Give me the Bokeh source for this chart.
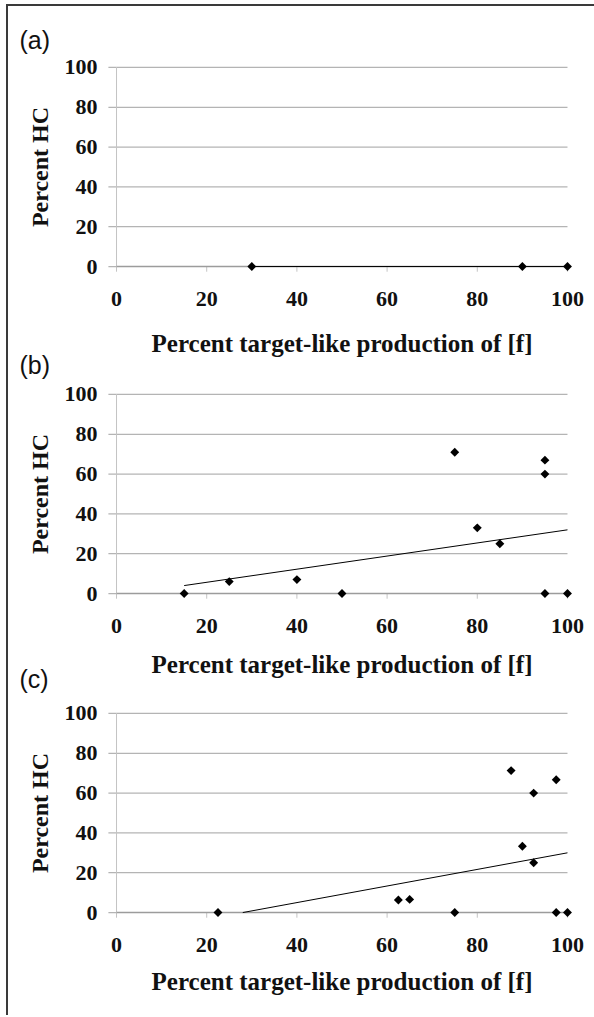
from math import pi
from bokeh.plotting import figure
from bokeh.models import Range1d, FixedTicker, Title
from bokeh.layouts import column
from bokeh.embed import file_html
from bokeh.resources import INLINE

# ---------------- data ----------------
tick_values = [0, 20, 40, 60, 80, 100]
tick_labels = ["0", "20", "40", "60", "80", "100"]
grid_values = [20, 40, 60, 80, 100]

x_title = "Percent target-like production of [f]"
y_title = "Percent HC"
panel_tags = ["(a)", "(b)", "(c)"]

a_x = [30, 90, 100]
a_y = [0, 0, 0]
a_trend_x = [30, 100]
a_trend_y = [0, 0]

b_x = [15, 25, 40, 50, 75, 80, 85, 95, 95, 95, 100]
b_y = [0, 6, 7, 0, 71, 33, 25, 67, 60, 0, 0]
b_trend_x = [15, 100]
b_trend_y = [4, 32]

c_x = [22.5, 62.5, 65, 75, 87.5, 90, 92.5, 92.5, 97.5, 97.5, 100]
c_y = [0, 6.3, 6.6, 0, 71.3, 33.3, 60, 25, 66.7, 0, 0]
c_trend_x = [28, 100]
c_trend_y = [0, 30]

SERIF = "Liberation Serif"
SANS = "Liberation Sans"
GRID = "#b4b4b4"
TXT = "#111111"


def make_fig(height, top, bottom, xs, ys, tx, ty, xlab_standoff):
    p = figure(width=586, height=height,
               x_range=Range1d(-2, 102), y_range=Range1d(-4, 104),
               output_backend="svg", toolbar_location=None,
               min_border_left=99, min_border_right=18,
               min_border_top=top, min_border_bottom=bottom)
    p.xgrid.visible = False
    p.ygrid.visible = False
    p.outline_line_color = None

    lo, hi = tick_values[0], tick_values[-1]
    n = len(grid_values)
    m = len(tick_values)
    # horizontal gridlines
    p.segment(x0=[lo] * n, x1=[hi] * n, y0=grid_values, y1=grid_values,
              line_color=GRID, line_width=1.3)
    # y tick marks (out of the value axis)
    p.segment(x0=[lo - 1.8] * m, x1=[lo] * m, y0=tick_values, y1=tick_values,
              line_color=GRID, line_width=1.3)
    # value axis line at x = 0
    p.segment(x0=[lo], x1=[lo], y0=[lo], y1=[hi],
              line_color="#c4c4c4", line_width=1)
    # x tick marks below the horizontal axis
    p.segment(x0=tick_values, x1=tick_values, y0=[lo] * m, y1=[lo - 2.6] * m,
              line_color="#c4c4c4", line_width=1)
    # horizontal axis line at y = 0
    p.segment(x0=[lo], x1=[hi], y0=[lo], y1=[lo],
              line_color="#9c9c9c", line_width=1.5)

    labels = dict(zip(tick_values, tick_labels))
    for ax in (p.xaxis[0], p.yaxis[0]):
        ax.ticker = FixedTicker(ticks=tick_values)
        ax.major_label_overrides = labels
        ax.axis_line_color = None
        ax.major_tick_line_color = None
        ax.minor_tick_line_color = None
        ax.major_tick_out = 0
        ax.major_tick_in = 0
        ax.minor_tick_in = 0
        ax.minor_tick_out = 0
        ax.major_label_text_font = SERIF
        ax.major_label_text_font_style = "bold"
        ax.major_label_text_font_size = "22px"
        ax.major_label_text_color = TXT
        ax.axis_label_text_font = SERIF
        ax.axis_label_text_font_style = "bold"
        ax.axis_label_text_color = TXT

    xa = p.xaxis[0]
    xa.major_label_standoff = 17
    xa.axis_label = x_title
    xa.axis_label_standoff = xlab_standoff
    xa.axis_label_text_font_size = "25px"

    ya = p.yaxis[0]
    ya.major_label_standoff = 10
    ya.axis_label = y_title
    ya.axis_label_standoff = 9
    ya.axis_label_text_font_size = "24px"

    p.line(tx, ty, line_color="black", line_width=1)
    p.scatter(xs, ys, marker="square", size=6.3, angle=pi / 4,
              fill_color="black", line_color=None)
    return p


def tag(p, text, side, standoff, valign):
    p.add_layout(Title(text=text, text_font=SANS, text_font_size="25px",
                       text_font_style="normal", text_color=TXT,
                       align="left", offset=-88, standoff=standoff,
                       vertical_align=valign), side)


fa = make_fig(376, 53, 108, a_x, a_y, a_trend_x, a_trend_y, 21)
fb = make_fig(319, 4, 100, b_x, b_y, b_trend_x, b_trend_y, 15)
fc = make_fig(314, 4, 95, c_x, c_y, c_trend_x, c_trend_y, 13)

tag(fa, panel_tags[0], "above", 12, "bottom")
tag(fa, panel_tags[1], "below", -18, "top")
tag(fb, panel_tags[2], "below", -31, "top")

layout = column(fa, fb, fc, spacing=0,
                styles={"border-top": "2px solid #3a3a3a",
                        "border-left": "2px solid #3a3a3a",
                        "margin-left": "6px", "margin-top": "4px"})

with open("out.html", "w") as f:
    f.write(file_html(layout, INLINE))
